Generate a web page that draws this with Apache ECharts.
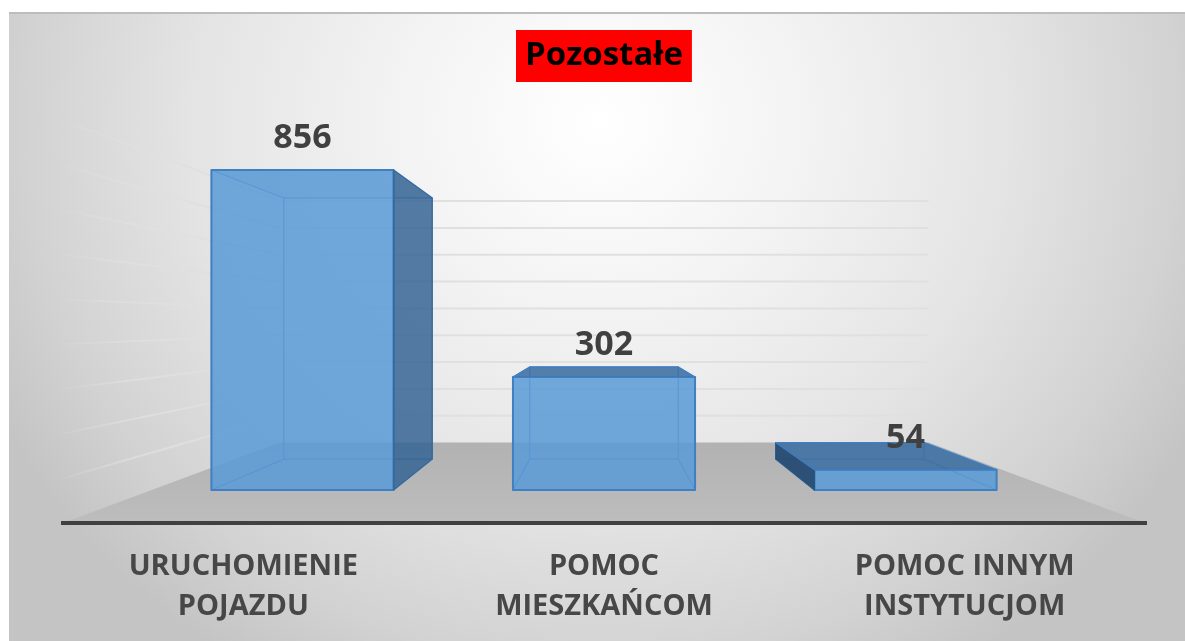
<!DOCTYPE html>
<html><head><meta charset="utf-8">
<script src="https://cdn.jsdelivr.net/npm/echarts@6/dist/echarts.min.js"></script>
<style>
html,body{margin:0;padding:0;background:#fff;overflow:hidden}
#panel{position:absolute;left:9px;top:12px;width:1176px;height:629px;box-sizing:border-box;border-top:2px solid #bdbdbd;
background:radial-gradient(ellipse 680px 640px at 591px 108px,#ffffff 0%,#f3f3f3 30%,#e4e4e4 60%,#d2d2d2 85%,#c4c4c4 100%)}
#main{position:absolute;left:0;top:0;width:1185px;height:641px}
</style></head><body>
<div id="panel"></div><div id="main"></div>
<script>
const categories = ['URUCHOMIENIE\nPOJAZDU', 'POMOC\nMIESZKAŃCOM', 'POMOC INNYM\nINSTYTUCJOM'];
const values = [856, 302, 54];
const gridTicks = [100, 200, 300, 400, 500, 600, 700, 800, 900];
const titleText = 'Pozostałe';

// Perspective: depth ratios relative to the axis plane, converging on a vanishing point.
const VP_Y = 322, FRONT = 0.836, BACK = 0.682, WALL = 0.6, BAR_RATIO = 0.604;
function project(p, depth, cs) {
  const vx = cs.x + cs.width / 2;
  return [vx + (p[0] - vx) * depth, VP_Y + (p[1] - VP_Y) * depth];
}
const chart = echarts.init(document.getElementById('main'));

function renderFloor(params, api) {
  const cs = params.coordSys;
  const a = api.coord([0, 0]);
  const L = [cs.x, a[1]], R = [cs.x + cs.width, a[1]];
  return { type: 'polygon', silent: true,
    shape: { points: [L, R, project(R, WALL, cs), project(L, WALL, cs)] },
    style: { fill: new echarts.graphic.LinearGradient(0, 0, 0, 1, [
      { offset: 0, color: '#b2b2b2' }, { offset: 1, color: '#bdbdbd' }]) } };
}
function renderGrid(params, api) {
  const cs = params.coordSys;
  const y = api.coord([0, api.value(0)])[1];
  const L = [cs.x, y], R = [cs.x + cs.width, y];
  const wl = project(L, WALL, cs), wr = project(R, WALL, cs), fl = project(L, 1, cs);
  const fade = new echarts.graphic.LinearGradient(fl[0], fl[1], wl[0], wl[1], [
    { offset: 0, color: 'rgba(226,226,226,0.1)' }, { offset: 0.4, color: 'rgba(224,224,224,0.8)' },
    { offset: 1, color: 'rgba(222,222,222,1)' }], true);
  return { type: 'group', silent: true, children: [
    { type: 'line', shape: { x1: wl[0], y1: wl[1], x2: wr[0], y2: wr[1] }, style: { stroke: '#e0e0e0', lineWidth: 2 } },
    { type: 'line', shape: { x1: fl[0], y1: fl[1], x2: wl[0], y2: wl[1] }, style: { stroke: fade, lineWidth: 2 } }
  ] };
}
function renderBar(params, api) {
  const cs = params.coordSys, vx = cs.x + cs.width / 2;
  const v = api.value(1), base = api.coord([api.value(0), 0]), top = api.coord([api.value(0), v]);
  const hw = api.size([1, 0])[0] * BAR_RATIO / 2;
  const c = (x, y, d) => project([x, y], d, cs);
  const xl = base[0] - hw, xr = base[0] + hw;
  const F = { bl: c(xl, base[1], FRONT), br: c(xr, base[1], FRONT), tl: c(xl, top[1], FRONT), tr: c(xr, top[1], FRONT) };
  const B = { bl: c(xl, base[1], BACK), br: c(xr, base[1], BACK), tl: c(xl, top[1], BACK), tr: c(xr, top[1], BACK) };
  const edge = '#4080c2', inner = 'rgba(62,122,188,0.55)', innerFill = 'rgba(91,155,213,0.12)';
  const face = (pts, fill, stroke, w) => ({ type: 'polygon', shape: { points: pts },
    style: { fill, stroke, lineWidth: w, lineJoin: 'round' } });
  const rightOuter = F.br[0] < vx, leftOuter = F.bl[0] > vx, topOuter = F.tl[1] > VP_Y;
  const kids = [
    face([B.bl, B.br, B.tr, B.tl], innerFill, inner, 1.2),
    face([F.bl, F.br, B.br, B.bl], innerFill, inner, 1.2)
  ];
  if (!rightOuter) kids.push(face([F.br, F.tr, B.tr, B.br], innerFill, inner, 1.2));
  if (!leftOuter) kids.push(face([F.bl, F.tl, B.tl, B.bl], innerFill, inner, 1.2));
  if (!topOuter) kids.push(face([F.tl, F.tr, B.tr, B.tl], 'rgba(60,120,185,0.18)', inner, 1.2));
  kids.push(face([F.bl, F.br, F.tr, F.tl], 'rgba(91,155,215,0.84)', edge, 2));
  if (rightOuter) kids.push(face([F.br, F.tr, B.tr, B.br], 'rgba(50,98,145,0.82)', 'rgba(50,105,160,0.9)', 1.2));
  if (leftOuter) kids.push(face([F.bl, F.tl, B.tl, B.bl], 'rgba(38,76,114,0.95)', 'rgba(40,85,130,0.9)', 1.2));
  if (topOuter) kids.push(face([F.tl, F.tr, B.tr, B.tl], 'rgba(62,112,162,0.88)', '#4080c2', 1.2));
  kids.push({ type: 'text', z2: 100, style: {
    x: (F.tl[0] + F.tr[0]) / 2, y: F.tl[1] - 32, text: String(v), align: 'center', verticalAlign: 'middle',
    font: 'bold 34px "Open Sans"', fill: '#404040' } });
  return { type: 'group', children: kids };
}
chart.setOption({
  animation: false,
  title: { text: titleText, left: 516, top: 30, padding: [9, 9, 9, 9], backgroundColor: '#ff0000',
    textStyle: { color: '#000', fontFamily: 'Open Sans', fontWeight: 'bold', fontSize: 33, lineHeight: 34 } },
  grid: { left: 63, width: 1082, top: 120.5, height: 402.5 },
  xAxis: { type: 'category', data: categories, z: 10,
    axisLine: { show: true, lineStyle: { color: '#404040', width: 4, cap: 'square' } }, axisTick: { show: false },
    axisLabel: { color: '#474747', fontFamily: 'Open Sans', fontWeight: 'bold', fontSize: 29, lineHeight: 39.5, margin: 24, interval: 0 } },
  yAxis: { type: 'value', min: 0, max: 900, interval: 100, axisLine: { show: false }, axisTick: { show: false },
    axisLabel: { show: false }, splitLine: { show: false } },
  series: [
    { type: 'custom', silent: true, z: 1, renderItem: renderFloor, data: [[0]], encode: { y: 0 }, clip: false },
    { type: 'custom', silent: true, z: 2, renderItem: renderGrid, data: gridTicks.map(t => [t]), encode: { y: 0 }, clip: false },
    { type: 'custom', z: 3, renderItem: renderBar, data: values.map((v, i) => [i, v]), encode: { x: 0, y: 1 }, clip: false }
  ]
});
</script></body></html>
